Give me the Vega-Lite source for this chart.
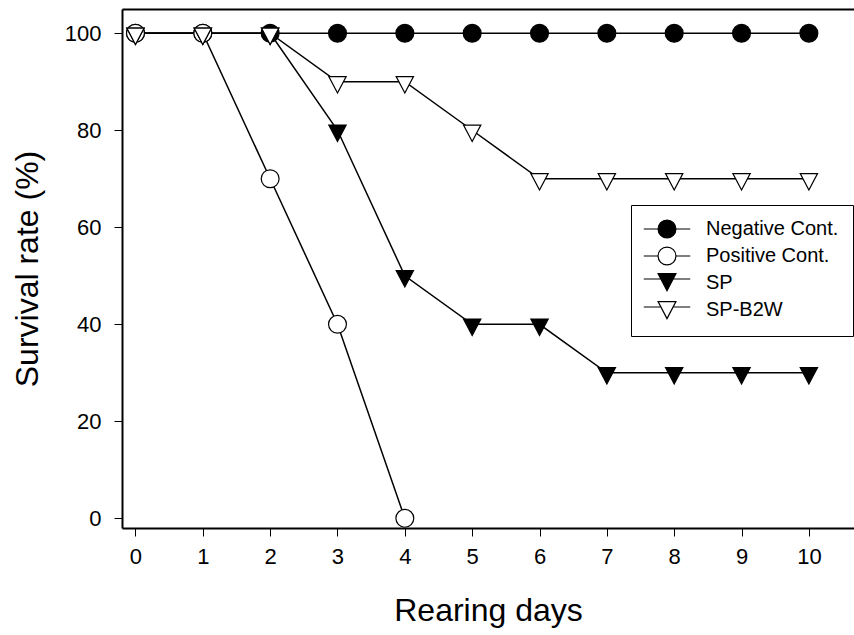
{
  "$schema": "https://vega.github.io/schema/vega-lite/v6.json",
  "width": 732,
  "height": 519,
  "autosize": "none",
  "padding": {"left": 122, "top": 9, "right": 0, "bottom": 107},
  "background": "white",
  "config": {
    "view": {"stroke": null},
    "font": "Liberation Sans",
    "axis": {
      "grid": false,
      "labelFont": "Liberation Sans",
      "labelFontSize": 22,
      "labelColor": "black",
      "titleFont": "Liberation Sans",
      "titleFontSize": 32,
      "titleFontWeight": "normal",
      "titleColor": "black",
      "domainColor": "black",
      "domainWidth": 2,
      "tickColor": "black",
      "tickWidth": 1,
      "tickSize": 8
    },
    "legend": {
      "orient": "none",
      "legendX": 509,
      "legendY": 196,
      "strokeColor": "black",
      "strokeWidth": 1,
      "fillColor": "white",
      "padding": 14,
      "labelFont": "Liberation Sans",
      "labelFontSize": 20,
      "labelColor": "black",
      "symbolSize": 320,
      "symbolStrokeWidth": 1.2,
      "rowPadding": 3,
      "labelOffset": 29,
      "symbolOffset": 12,
      "labelLimit": 300
    }
  },
  "data": {
    "values": [
      {"day": 0, "rate": 100, "series": "Negative Cont."},
      {"day": 1, "rate": 100, "series": "Negative Cont."},
      {"day": 2, "rate": 100, "series": "Negative Cont."},
      {"day": 3, "rate": 100, "series": "Negative Cont."},
      {"day": 4, "rate": 100, "series": "Negative Cont."},
      {"day": 5, "rate": 100, "series": "Negative Cont."},
      {"day": 6, "rate": 100, "series": "Negative Cont."},
      {"day": 7, "rate": 100, "series": "Negative Cont."},
      {"day": 8, "rate": 100, "series": "Negative Cont."},
      {"day": 9, "rate": 100, "series": "Negative Cont."},
      {"day": 10, "rate": 100, "series": "Negative Cont."},
      {"day": 0, "rate": 100, "series": "Positive Cont."},
      {"day": 1, "rate": 100, "series": "Positive Cont."},
      {"day": 2, "rate": 70, "series": "Positive Cont."},
      {"day": 3, "rate": 40, "series": "Positive Cont."},
      {"day": 4, "rate": 0, "series": "Positive Cont."},
      {"day": 0, "rate": 100, "series": "SP"},
      {"day": 1, "rate": 100, "series": "SP"},
      {"day": 2, "rate": 100, "series": "SP"},
      {"day": 3, "rate": 80, "series": "SP"},
      {"day": 4, "rate": 50, "series": "SP"},
      {"day": 5, "rate": 40, "series": "SP"},
      {"day": 6, "rate": 40, "series": "SP"},
      {"day": 7, "rate": 30, "series": "SP"},
      {"day": 8, "rate": 30, "series": "SP"},
      {"day": 9, "rate": 30, "series": "SP"},
      {"day": 10, "rate": 30, "series": "SP"},
      {"day": 0, "rate": 100, "series": "SP-B2W"},
      {"day": 1, "rate": 100, "series": "SP-B2W"},
      {"day": 2, "rate": 100, "series": "SP-B2W"},
      {"day": 3, "rate": 90, "series": "SP-B2W"},
      {"day": 4, "rate": 90, "series": "SP-B2W"},
      {"day": 5, "rate": 80, "series": "SP-B2W"},
      {"day": 6, "rate": 70, "series": "SP-B2W"},
      {"day": 7, "rate": 70, "series": "SP-B2W"},
      {"day": 8, "rate": 70, "series": "SP-B2W"},
      {"day": 9, "rate": 70, "series": "SP-B2W"},
      {"day": 10, "rate": 70, "series": "SP-B2W"}
    ]
  },
  "resolve": {
    "axis": {"x": "independent", "y": "independent"},
    "scale": {"fill": "independent", "stroke": "independent"},
    "legend": {"fill": "independent", "stroke": "independent"}
  },
  "layer": [
    {
      "mark": {"type": "line", "color": "black", "strokeWidth": 1.5},
      "encoding": {
        "x": {
          "field": "day", "type": "quantitative",
          "scale": {"domain": [-0.2, 10.67], "nice": false, "zero": false},
          "axis": {"values": [0,1,2,3,4,5,6,7,8,9,10], "title": "Rearing days", "labelPadding": 10, "titlePadding": 28, "orient": "bottom"}
        },
        "y": {
          "field": "rate", "type": "quantitative",
          "scale": {"domain": [-2, 105], "nice": false, "zero": false},
          "axis": {"values": [0,20,40,60,80,100], "title": "Survival rate (%)", "labelPadding": 13, "titlePadding": 20, "orient": "left"}
        },
        "detail": {"field": "series"}
      }
    },
    {
      "transform": [{"filter": "datum.series === 'Negative Cont.' || datum.series === 'Positive Cont.'"}],
      "mark": {"type": "point", "shape": "circle", "filled": true, "strokeWidth": 1.2, "opacity": 1, "size": 320},
      "encoding": {
        "x": {
          "field": "day", "type": "quantitative",
          "axis": {"orient": "top", "labels": false, "ticks": false, "title": null, "domainWidth": 2}
        },
        "y": {"field": "rate", "type": "quantitative", "axis": null},
        "fill": {
          "field": "series", "type": "nominal",
          "scale": {
            "domain": ["Negative Cont.", "Positive Cont.", "SP", "SP-B2W"],
            "range": ["black", "white", "transparent", "transparent"]
          },
          "legend": {"title": null, "symbolType": "M-2.6,0H-1M1,0H2.6M-1,0A1,1 0 1,0 1,0A1,1 0 1,0 -1,0Z"}
        },
        "stroke": {
          "field": "series", "type": "nominal",
          "scale": {
            "domain": ["Negative Cont.", "Positive Cont.", "SP", "SP-B2W"],
            "range": ["black", "black", "transparent", "transparent"]
          },
          "legend": {"title": null, "symbolType": "M-2.6,0H-1M1,0H2.6M-1,0A1,1 0 1,0 1,0A1,1 0 1,0 -1,0Z"}
        }
      }
    },
    {
      "transform": [{"filter": "datum.series === 'SP' || datum.series === 'SP-B2W'"}],
      "mark": {"type": "point", "shape": "M-1,-0.6L1,-0.6L0,1.3Z", "filled": true, "strokeWidth": 1.2, "opacity": 1, "size": 300},
      "encoding": {
        "x": {"field": "day", "type": "quantitative", "axis": null},
        "y": {"field": "rate", "type": "quantitative", "axis": null},
        "fill": {
          "field": "series", "type": "nominal",
          "scale": {"domain": ["SP", "SP-B2W"], "range": ["black", "white"]},
          "legend": {
            "title": null,
            "symbolType": "M-2.6,0H-0.68M0.68,0H2.6M-1,-0.6L1,-0.6L0,1.3Z",
            "legendY": 246,
            "strokeColor": "transparent",
            "fillColor": "transparent",
            "labelColor": "transparent",
            "labelExpr": "' '"
          }
        },
        "stroke": {
          "field": "series", "type": "nominal",
          "scale": {"domain": ["SP", "SP-B2W"], "range": ["black", "black"]},
          "legend": {
            "title": null,
            "symbolType": "M-2.6,0H-0.68M0.68,0H2.6M-1,-0.6L1,-0.6L0,1.3Z",
            "legendY": 246,
            "strokeColor": "transparent",
            "fillColor": "transparent",
            "labelColor": "transparent",
            "labelExpr": "' '"
          }
        }
      }
    }
  ]
}
